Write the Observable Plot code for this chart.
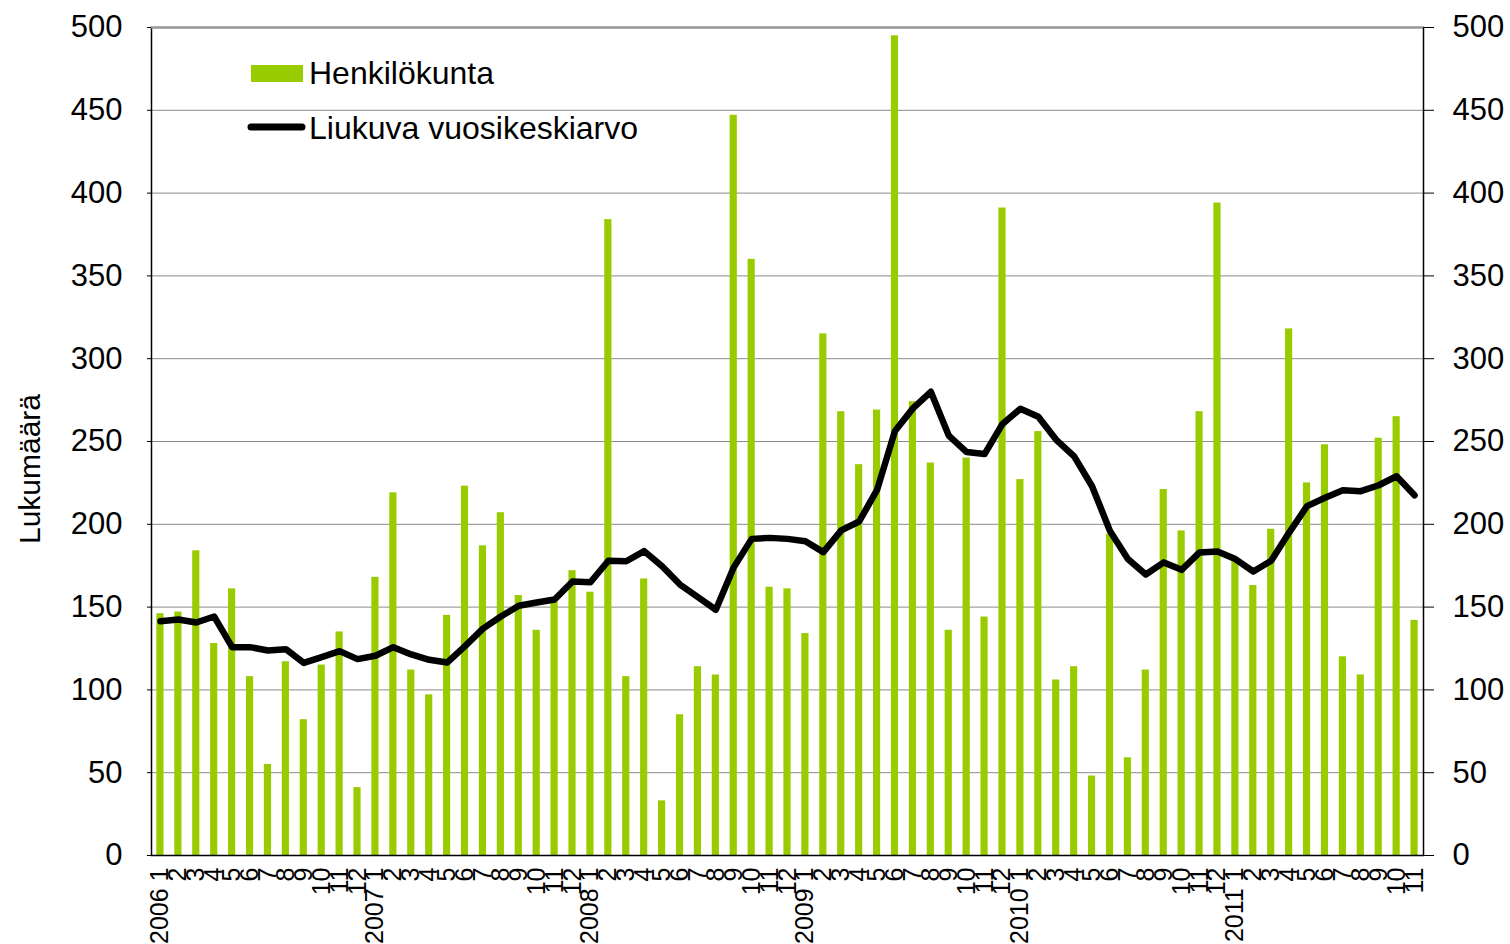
<!DOCTYPE html>
<html>
<head>
<meta charset="utf-8">
<script src="https://cdn.jsdelivr.net/npm/d3@7"></script>
<script src="https://cdn.jsdelivr.net/npm/@observablehq/plot@0.6"></script>
<style>
  body { margin: 0; background: #fff; font-family: "Liberation Sans", Arial, sans-serif; }
  #wrap { position: relative; width: 1510px; height: 944px; }
  #legend { position: absolute; left: 0; top: 0; pointer-events: none; }
</style>
</head>
<body>
<div id="wrap"></div>
<script>
// Categories
const years = [2006, 2007, 2008, 2009, 2010, 2011];
const months = [1, 2, 3, 4, 5, 6, 7, 8, 9, 10, 11, 12];

// Series: Henkilökunta (monthly count), 2006-1 .. 2011-11
const henkilokunta = [
  146, 147, 184, 128, 161, 108, 55, 117, 82, 115, 135, 41,
  168, 219, 112, 97, 145, 223, 187, 207, 157, 136, 153, 172,
  159, 384, 108, 167, 33, 85, 114, 109, 447, 360, 162, 161,
  134, 315, 268, 236, 269, 495, 274, 237, 136, 240, 144, 391,
  227, 256, 106, 114, 48, 194, 59, 112, 221, 196, 268, 394,
  180, 163, 197, 318, 225, 248, 120, 109, 252, 265, 142
];

// Series: Liukuva vuosikeskiarvo (moving annual average)
const liukuva = [
  141.5, 142.5, 140.7, 144.3, 125.8, 125.8, 123.8, 124.6, 116.3, 119.8, 123.4, 118.6,
  120.6, 125.8, 121.4, 118.2, 116.5, 126.4, 137.0, 144.3, 150.8, 152.8, 154.6, 165.5,
  165.0, 178.0, 177.7, 183.8, 174.7, 163.6, 156.0, 148.4, 174.0, 191.2, 191.8, 191.2,
  189.8, 183.2, 196.3, 201.7, 220.8, 256.4, 270.0, 280.0, 253.6, 243.6, 242.4, 260.6,
  269.8, 265.0, 251.0, 241.0, 223.0, 196.0, 179.0, 169.7, 177.0, 172.5, 183.0, 183.6,
  179.0, 171.5, 178.0, 195.0, 211.0, 216.0, 220.5, 220.0, 223.6, 229.0, 217.5
];

// Tick values
const yTicks = [0, 50, 100, 150, 200, 250, 300, 350, 400, 450, 500];

// Legend / axis labels
const legendLabels = ["Henkilökunta", "Liukuva vuosikeskiarvo"];
const yLabel = "Lukumäärä";

// Build table
const periods = [];
for (const y of years) for (const m of months) {
  if (periods.length < henkilokunta.length) periods.push({ key: `${y}-${m}`, year: y, month: m });
}
const data = periods.map((p, i) => ({ ...p, v: henkilokunta[i], avg: liukuva[i] }));
const labelOf = new Map(periods.map(p => [p.key, p.month === 1 ? `${p.year} 1` : `${p.month}`]));

const font = "Liberation Sans, Arial, sans-serif";

const chart = Plot.plot({
  width: 1510,
  height: 944,
  marginTop: 27,
  marginBottom: 89,
  marginLeft: 151,
  marginRight: 87,
  style: { fontFamily: font, background: "#fff", color: "#000", overflow: "visible" },
  x: { type: "band", domain: periods.map(p => p.key), paddingInner: 0.6, paddingOuter: 0.3, label: null },
  y: { domain: [0, 500], label: null },
  marks: [
    Plot.ruleY(yTicks.filter(t => t > 0 && t < 500), { stroke: "#8a8a8a", strokeWidth: 1 }),
    Plot.barY(data, { x: "key", y: "v", fill: "#99cc00" }),
    Plot.line(data, { x: "key", y: "avg", stroke: "#000", strokeWidth: 6.5, strokeLinejoin: "round", strokeLinecap: "round" }),
    Plot.frame({ stroke: "#000", strokeWidth: 1.5 }),
    Plot.ruleY([500], { stroke: "#9a9a9a", strokeWidth: 2.2 }),
    Plot.axisY({ anchor: "left", ticks: yTicks, tickSize: 4, tickPadding: 25, fontSize: 31, label: null }),
    Plot.axisY({ anchor: "right", ticks: yTicks, tickSize: 10, tickPadding: 19, fontSize: 31, label: null }),
    Plot.axisX({ anchor: "bottom", tickRotate: -90, tickSize: 0, tickPadding: 12, fontSize: 25,
                 tickFormat: k => labelOf.get(k), label: null })
  ]
});

const wrap = document.getElementById("wrap");
wrap.appendChild(chart);

// Legend and y-axis title overlay
const ns = "http://www.w3.org/2000/svg";
const leg = document.createElementNS(ns, "svg");
leg.setAttribute("id", "legend");
leg.setAttribute("width", 1510);
leg.setAttribute("height", 944);
leg.innerHTML = `
  <rect x="251" y="65" width="52" height="17" fill="#99cc00"></rect>
  <text x="309" y="84" font-family="${font}" font-size="32" fill="#000">${legendLabels[0]}</text>
  <line x1="251" y1="127" x2="302" y2="127" stroke="#000" stroke-width="7" stroke-linecap="round"></line>
  <text x="309" y="139" font-family="${font}" font-size="32" fill="#000">${legendLabels[1]}</text>
  <text transform="translate(40,469) rotate(-90)" text-anchor="middle" font-family="${font}" font-size="30" fill="#000">${yLabel}</text>
`;
wrap.appendChild(leg);
</script>
</body>
</html>
